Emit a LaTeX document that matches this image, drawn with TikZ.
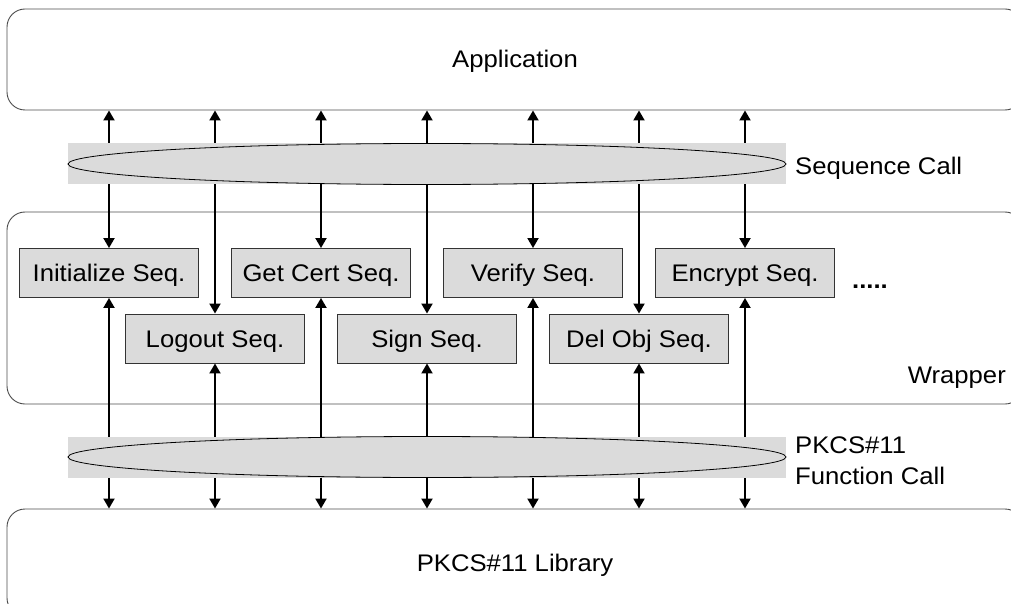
\documentclass[tikz,border=0pt]{standalone}
\usepackage{fontspec}
\setmainfont{Liberation Sans}[FakeStretch=1.07]
\usetikzlibrary{arrows.meta}

\tikzset{
  layer/.style={draw=black!70, line width=0.9pt, rounded corners=18pt, minimum width=1016pt,
    text height=17pt, text depth=0pt, inner sep=0pt},
  seqbox/.style={draw=black!80, line width=0.9pt, fill=black!14, minimum width=179pt, minimum height=49pt,
    text height=17pt, text depth=0pt, inner sep=0pt},
  band/.style={fill=black!14, minimum width=718pt, minimum height=41pt, inner sep=0pt},
  call/.style={line width=1.9pt, {Triangle[length=10pt,width=11pt]}-{Triangle[length=10pt,width=11pt]}},
  lbl/.style={inner sep=0pt},
}

\begin{document}
\begin{tikzpicture}[x=1pt, y=-1pt, font=\fontsize{24}{31}\selectfont]
  \useasboundingbox (0,0) rectangle (1011,604);
  % layers
  \node[layer, minimum height=101pt] (app) at (515,59.5) {Application};
  \node[layer, minimum height=192pt] (wrap) at (515,308) {};
  \node[layer, minimum height=107pt] (lib) at (515,562.5) {PKCS\#11 Library};
  \node[lbl, anchor=base east] (wraplbl) at (1006,383) {Wrapper};

  % sequences
  \node[seqbox] (init) at (109,273) {Initialize Seq.};
  \node[seqbox] (cert) at (321,273) {Get Cert Seq.};
  \node[seqbox] (verify) at (533,273) {Verify Seq.};
  \node[seqbox] (encrypt) at (745,273) {Encrypt Seq.};
  \node[seqbox] (logout) at (215,338.5) {Logout Seq.};
  \node[seqbox] (sign) at (427,338.5) {Sign Seq.};
  \node[seqbox] (delobj) at (639,338.5) {Del Obj Seq.};
  \node[lbl, anchor=base, font=\fontsize{24}{31}\selectfont\bfseries] (more) at (870,288) {.....};

  % calls
  \foreach \s in {init,logout,cert,sign,verify,delobj,encrypt} {
    \draw[call] (app.south -| \s) -- (\s.north);
    \draw[call] (\s.south) -- (lib.north -| \s);
  }

  % call bands
  \node[band] (seqband) at (427,164) {};
  \draw[line width=0.8pt] (seqband.center) ellipse [x radius=359pt, y radius=20.5pt];
  \node[lbl, anchor=base west] (seqlbl) at (795,175) {Sequence Call};
  \node[band] (fnband) at (427,457) {};
  \draw[line width=0.8pt] (fnband.center) ellipse [x radius=359pt, y radius=20.5pt];
  \node[lbl, anchor=base west, align=left] (fnlbl) at (795,484) {PKCS\#11\\Function Call};
\end{tikzpicture}
\end{document}
